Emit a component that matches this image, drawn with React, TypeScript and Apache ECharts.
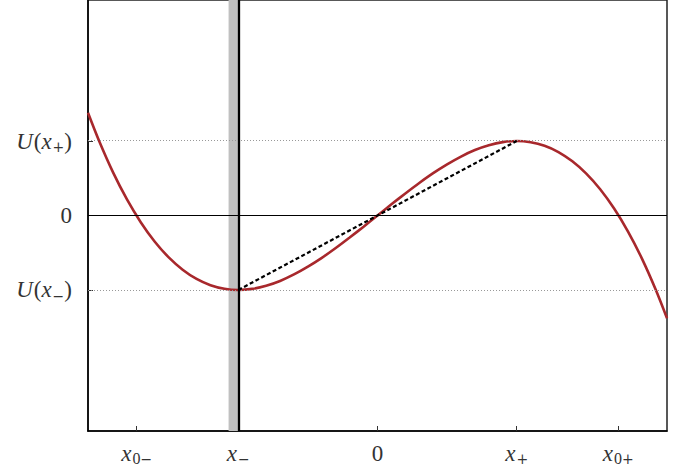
import React, { useEffect, useRef } from "react";
import * as echarts from "echarts";

// Curve U(x) (x in units of x_+)
const curveX = [
  -2.08, -2.0, -1.9, -1.8, -1.7, -1.6, -1.5, -1.4, -1.3, -1.2, -1.1, -1.0, -0.9, -0.8, -0.7, -0.6, -0.5,
  -0.4, -0.3, -0.2, -0.1, 0, 0.1, 0.2, 0.3, 0.4, 0.5, 0.6, 0.7, 0.8, 0.9, 1.0, 1.1, 1.2, 1.3, 1.4, 1.5,
  1.6, 1.7, 1.8, 1.9, 2.0, 2.08,
];
const curveU = [
  0.92, 0.667, 0.386, 0.144, -0.062, -0.235, -0.375, -0.485, -0.568, -0.624, -0.656, -0.667, -0.657,
  -0.629, -0.586, -0.528, -0.458, -0.379, -0.291, -0.197, -0.1, 0, 0.1, 0.197, 0.291, 0.379, 0.458,
  0.528, 0.586, 0.629, 0.657, 0.667, 0.656, 0.624, 0.568, 0.485, 0.375, 0.235, 0.062, -0.144, -0.386,
  -0.667, -0.92,
];

// Chord from x_- to x_+
const chordX = [-1, 1];
const chordU = [-0.667, 0.667];

// Ticks
const xTickValues = [-1.73, -1, 0, 1, 1.73];
const xTickLabels = [
  "{i|x}{s|0}{p|−}",
  "{i|x}{p|−}",
  "{n|0}",
  "{i|x}{p|+}",
  "{i|x}{s|0}{p|+}",
];
const yTickValues = [-0.667, 0, 0.667];
const yTickLabels = [
  "{i|U}{n|(}{i|x}{p|−}{n|)}",
  "{n|0}",
  "{i|U}{n|(}{i|x}{p|+}{n|)}",
];

// Guides
const levelLines = [0.667, -0.667];
const zeroLevel = 0;
const bandRange = [-1.07, -1.0];
const markerX = -1;

const X_MIN = -2.08;
const X_MAX = 2.08;
const Y_MIN = -1.93;
const Y_MAX = 1.93;

const FONT = "Liberation Serif";
const SIGN_FONT = "DejaVu Serif";
const TEXT_COLOR = "#333";

const rich = {
  i: { fontFamily: FONT, fontStyle: "italic", fontSize: 23, lineHeight: 26, color: TEXT_COLOR, padding: [0, 1, 0, 0] },
  n: { fontFamily: FONT, fontStyle: "normal", fontSize: 23, lineHeight: 26, color: TEXT_COLOR },
  s: { fontFamily: FONT, fontStyle: "normal", fontSize: 16, lineHeight: 15, verticalAlign: "bottom", color: TEXT_COLOR },
  p: { fontFamily: SIGN_FONT, fontStyle: "normal", fontSize: 14, lineHeight: 15, verticalAlign: "bottom", color: TEXT_COLOR },
};

function labelFor(values: number[], labels: string[], v: number): string {
  for (let k = 0; k < values.length; k++) {
    if (Math.abs(values[k] - v) < 1e-6) return labels[k];
  }
  return "";
}

export default function App() {
  const ref = useRef<HTMLDivElement>(null);

  useEffect(() => {
    document.body.style.margin = "0";
    if (!ref.current) return;
    const chart = echarts.init(ref.current, null, { renderer: "svg" });

    const curveData = curveX.map((x, k) => [x, curveU[k]]);
    const chordData = chordX.map((x, k) => [x, chordU[k]]);

    chart.setOption({
      animation: false,
      backgroundColor: "#fff",
      textStyle: { fontFamily: FONT },
      grid: {
        left: 88,
        right: 12,
        top: 0,
        bottom: 39,
        show: true,
        borderColor: "#222",
        borderWidth: 1.5,
        backgroundColor: "transparent",
      },
      xAxis: {
        type: "value",
        min: X_MIN,
        max: X_MAX,
        splitLine: { show: false },
        axisLine: { show: true, onZero: false, lineStyle: { color: "#000", width: 1.5 } },
        axisTick: {
          show: true,
          inside: true,
          length: 5,
          customValues: xTickValues,
          lineStyle: { color: "#333", width: 1 },
        },
        axisLabel: {
          show: true,
          margin: 9,
          fontFamily: FONT,
          fontSize: 23,
          customValues: xTickValues,
          formatter: (v: number) => labelFor(xTickValues, xTickLabels, v),
          rich,
        },
      },
      yAxis: {
        type: "value",
        min: Y_MIN,
        max: Y_MAX,
        splitLine: { show: false },
        axisLine: { show: true, onZero: false, lineStyle: { color: "#000", width: 1.5 } },
        axisTick: {
          show: true,
          inside: true,
          length: 5,
          customValues: yTickValues,
          lineStyle: { color: "#333", width: 1 },
        },
        axisLabel: {
          show: true,
          margin: 16,
          fontFamily: FONT,
          fontSize: 23,
          customValues: yTickValues,
          formatter: (v: number) => labelFor(yTickValues, yTickLabels, v),
          rich,
        },
      },
      series: [
        {
          type: "line",
          data: [],
          z: 1,
          silent: true,
          markArea: {
            silent: true,
            itemStyle: { color: "#c0c0c0", opacity: 1 },
            data: [[{ xAxis: bandRange[0] }, { xAxis: bandRange[1] }]],
          },
        },
        {
          type: "line",
          data: [],
          z: 2,
          silent: true,
          markLine: {
            silent: true,
            symbol: ["none", "none"],
            label: { show: false },
            data: [
              ...levelLines.map((y) => ({
                yAxis: y,
                lineStyle: { type: [1, 2], color: "#999", width: 1 },
              })),
              { yAxis: zeroLevel, lineStyle: { type: "solid", color: "#000", width: 1 } },
            ],
          },
        },
        {
          type: "line",
          data: curveData,
          z: 3,
          smooth: 0.3,
          showSymbol: false,
          symbol: "none",
          lineStyle: { color: "#a8282c", width: 2.6 },
        },
        {
          type: "line",
          data: chordData,
          z: 4,
          showSymbol: false,
          symbol: "none",
          lineStyle: { color: "#000", width: 2.2, type: [4, 2.5] },
        },
        {
          type: "line",
          data: [],
          z: 5,
          silent: true,
          markLine: {
            silent: true,
            symbol: ["none", "none"],
            label: { show: false },
            data: [{ xAxis: markerX, lineStyle: { type: "solid", color: "#000", width: 2.3 } }],
          },
        },
      ],
    });

    return () => chart.dispose();
  }, []);

  return <div ref={ref} style={{ width: 679, height: 470 }} />;
}
